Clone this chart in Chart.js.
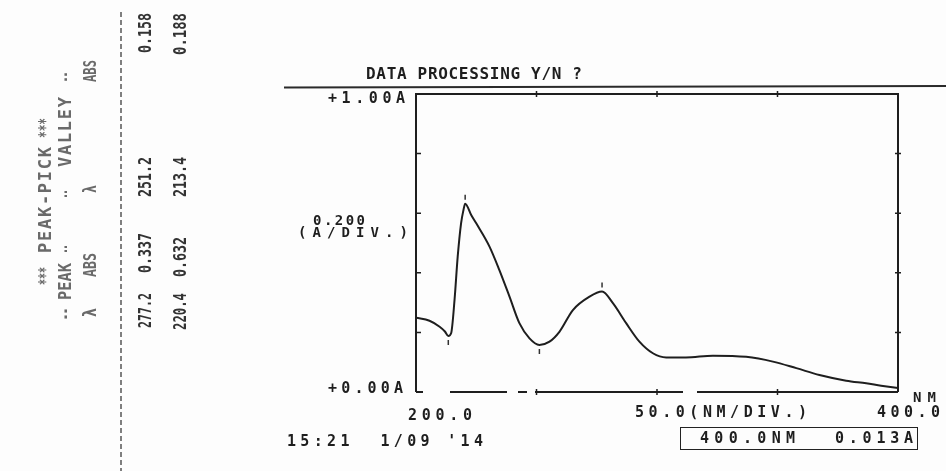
<!DOCTYPE html>
<html>
<head>
<meta charset="utf-8">
<script src="https://cdn.jsdelivr.net/npm/chart.js@4.4.1/dist/chart.umd.min.js"></script>
<style>
  html, body { margin: 0; padding: 0; background: #fdfdfd; }
  #wrap { position: relative; width: 946px; height: 471px; overflow: hidden; }
  #scan { position: absolute; left: 0; top: 0; }
  #overlay { position: absolute; left: 0; top: 0; width: 946px; height: 471px; }
  .lbl { position: absolute; white-space: pre; font-family: "DejaVu Sans Mono", monospace; font-weight: bold; }
  .box { position: absolute; border: 1.5px solid #222; }
</style>
</head>
<body>
<div id="wrap">
  <canvas id="scan" width="946" height="471"></canvas>
  <div id="overlay"></div>
</div>
<script>
// spectrum (wavelength in nm, absorbance in A)
const wavelength = [200, 205.6, 209.8, 212, 213.4, 214.6, 216, 217.3, 218.7, 219.7, 220.4, 222.9, 225,
  230.5, 234.6, 238.8, 242.9, 247.1, 251.2, 255.4, 259.5, 265.1, 272, 277.2, 281.7, 287.2, 292.7,
  298.3, 303.8, 312, 323.2, 337, 348.1, 357.8, 367.4, 378.5, 386.8, 393, 400];
const absorbance = [0.249, 0.239, 0.219, 0.203, 0.188, 0.198, 0.31, 0.454, 0.566, 0.611, 0.632, 0.594, 0.566,
  0.488, 0.409, 0.320, 0.231, 0.180, 0.158, 0.169, 0.202, 0.275, 0.320, 0.337, 0.298, 0.231, 0.169,
  0.130, 0.116, 0.116, 0.122, 0.118, 0.102, 0.080, 0.057, 0.038, 0.029, 0.021, 0.013];

// peak-pick table
const peakNm = [277.2, 220.4];
const peakAbs = [0.337, 0.632];
const valleyNm = [251.2, 213.4];
const valleyAbs = [0.158, 0.188];

// axis setup
const xRange = [200, 400];
const yRange = [0, 1];
const xTicks = [250, 300, 350];
const yTicks = [0.2, 0.4, 0.6, 0.8];
const xLabels = ['200.0', '400.0'];
const yLabels = ['+0.00A', '+1.00A'];

const ink = '#1e1e1e';

// frame, tick marks, peak markers and the table divider
const printout = {
  id: 'printout',
  beforeDatasetsDraw(chart) {
    const { ctx, chartArea: a, scales: { x, y } } = chart;
    ctx.save();
    ctx.strokeStyle = ink;
    ctx.lineWidth = 2;
    ctx.beginPath();
    ctx.moveTo(a.left, a.bottom); ctx.lineTo(a.left, a.top); ctx.lineTo(a.right, a.top); ctx.lineTo(a.right, a.bottom);
    ctx.stroke();
    // baseline is partly faded on the paper
    ctx.setLineDash([7, 27, 57, 11, 9, 8, 148, 14, 300]);
    ctx.beginPath();
    ctx.moveTo(a.left, a.bottom); ctx.lineTo(a.right, a.bottom);
    ctx.stroke();
    ctx.setLineDash([]);
    ctx.lineWidth = 1.5;
    ctx.beginPath();
    yTicks.forEach(v => {
      const py = y.getPixelForValue(v);
      ctx.moveTo(a.left - 1, py); ctx.lineTo(a.left + 5, py);
      ctx.moveTo(a.right - 3, py); ctx.lineTo(a.right + 3, py);
    });
    xTicks.forEach(v => {
      const px = x.getPixelForValue(v);
      ctx.moveTo(px, a.top - 3); ctx.lineTo(px, a.top + 3);
      ctx.moveTo(px, a.bottom - 3); ctx.lineTo(px, a.bottom + 3);
    });
    ctx.stroke();
    // peak / valley marks
    ctx.strokeStyle = '#333';
    ctx.beginPath();
    peakNm.forEach((v, i) => {
      const px = x.getPixelForValue(v), py = y.getPixelForValue(peakAbs[i]);
      ctx.moveTo(px, py - 9); ctx.lineTo(px, py - 4);
    });
    valleyNm.forEach((v, i) => {
      const px = x.getPixelForValue(v), py = y.getPixelForValue(valleyAbs[i]);
      ctx.moveTo(px, py + 4); ctx.lineTo(px, py + 9);
    });
    ctx.stroke();
    // rule under the prompt line
    ctx.strokeStyle = '#2a2a2a';
    ctx.lineWidth = 2;
    ctx.beginPath();
    ctx.moveTo(284, 87.5); ctx.lineTo(946, 86);
    ctx.stroke();
    // dashed divider of the peak table
    ctx.strokeStyle = '#555';
    ctx.lineWidth = 1.5;
    ctx.setLineDash([5, 3]);
    ctx.beginPath();
    ctx.moveTo(121, 12); ctx.lineTo(121, 471);
    ctx.stroke();
    ctx.restore();
  }
};

const ctx = document.getElementById('scan').getContext('2d');
const chart = new Chart(ctx, {
  type: 'line',
  data: {
    datasets: [{
      data: wavelength.map((w, i) => ({ x: w, y: absorbance[i] })),
      borderColor: ink,
      borderWidth: 2,
      pointRadius: 0,
      fill: false,
      cubicInterpolationMode: 'monotone'
    }]
  },
  options: {
    responsive: false,
    animation: false,
    events: [],
    layout: { padding: { left: 416, right: 48, top: 94, bottom: 79 } },
    scales: {
      x: { type: 'linear', min: xRange[0], max: xRange[1], display: false },
      y: { type: 'linear', min: yRange[0], max: yRange[1], display: false }
    },
    plugins: { legend: { display: false }, tooltip: { enabled: false } }
  },
  plugins: [printout]
});

// printed text, stretched or squeezed to the width it has on the paper
const overlay = document.getElementById('overlay');
const meas = document.createElement('canvas').getContext('2d');
function put(txt, x0, x1, c, size, color, rotated) {
  const el = document.createElement('div');
  el.className = 'lbl';
  el.textContent = txt;
  el.style.fontSize = size + 'px';
  el.style.lineHeight = size + 'px';
  el.style.color = color;
  meas.font = 'bold ' + size + 'px "DejaVu Sans Mono"';
  const nat = meas.measureText(txt).width;
  const len = Math.abs(x1 - x0);
  let sx = 1;
  if (len > nat && txt.length > 1) el.style.letterSpacing = ((len - nat) / (txt.length - 1)) + 'px';
  else sx = len / nat;
  el.style.transformOrigin = '0 0';
  if (rotated) {
    el.style.left = (c - size / 2) + 'px';
    el.style.top = x0 + 'px';
    el.style.transform = `rotate(-90deg) scaleX(${sx})`;
  } else {
    el.style.left = x0 + 'px';
    el.style.top = (c - size / 2) + 'px';
    el.style.transform = `scaleX(${sx})`;
  }
  overlay.appendChild(el);
}

put('DATA PROCESSING Y/N ?', 366, 582, 74, 16, ink);
put(yLabels[1], 328, 405, 98, 15, ink);
put((yRange[1] / 5).toFixed(3), 313, 365, 220, 14, ink);
put('(A/DIV.)', 298, 408, 232, 14, ink);
put(yLabels[0], 328, 403, 388, 15, ink);
put(xLabels[0], 408, 472, 415, 15, ink);
put(((xRange[1] - xRange[0]) / 4).toFixed(1) + '(NM/DIV.)', 635, 807, 412, 15, ink);
put('NM', 913, 936, 397, 14, ink);
put(xLabels[1], 877, 940, 412, 15, ink);
put("15:21  1/09 '14", 287, 483, 441, 15, ink);

const box = document.createElement('div');
box.className = 'box';
Object.assign(box.style, { left: '680px', top: '427px', width: '236px', height: '21px' });
overlay.appendChild(box);
put(wavelength[wavelength.length - 1].toFixed(1) + 'NM', 700, 795, 438, 15, ink);
put(absorbance[absorbance.length - 1].toFixed(3) + 'A', 835, 913, 438, 15, ink);

// rotated peak-pick listing on the left
const dim = '#6a6a6a', dark = '#333';
put('***', 285, 267, 45, 17, dim, true);
put('PEAK-PICK', 253, 147, 45, 17, dim, true);
put('***', 138, 118, 45, 17, dim, true);
put('--', 320, 308, 65, 17, dim, true);
put('PEAK', 300, 263, 65, 17, dim, true);
put('--', 253, 245, 65, 17, dim, true);
put('--', 198, 190, 65, 17, dim, true);
put('VALLEY', 167, 97, 65, 17, dim, true);
put('--', 82, 72, 65, 17, dim, true);
put('λ', 317, 308, 90, 17, dim, true);
put('ABS', 277, 253, 90, 17, dim, true);
put('λ', 193, 185, 90, 17, dim, true);
put('ABS', 82, 60, 90, 17, dim, true);
put(peakNm[0].toFixed(1), 328, 293, 145, 18, dark, true);
put(peakAbs[0].toFixed(3), 273, 233, 145, 18, dark, true);
put(valleyNm[0].toFixed(1), 197, 157, 145, 18, dark, true);
put(valleyAbs[0].toFixed(3), 53, 13, 145, 18, dark, true);
put(peakNm[1].toFixed(1), 330, 293, 180, 18, dark, true);
put(peakAbs[1].toFixed(3), 277, 237, 180, 18, dark, true);
put(valleyNm[1].toFixed(1), 197, 157, 180, 18, dark, true);
put(valleyAbs[1].toFixed(3), 55, 13, 180, 18, dark, true);
</script>
</body>
</html>
